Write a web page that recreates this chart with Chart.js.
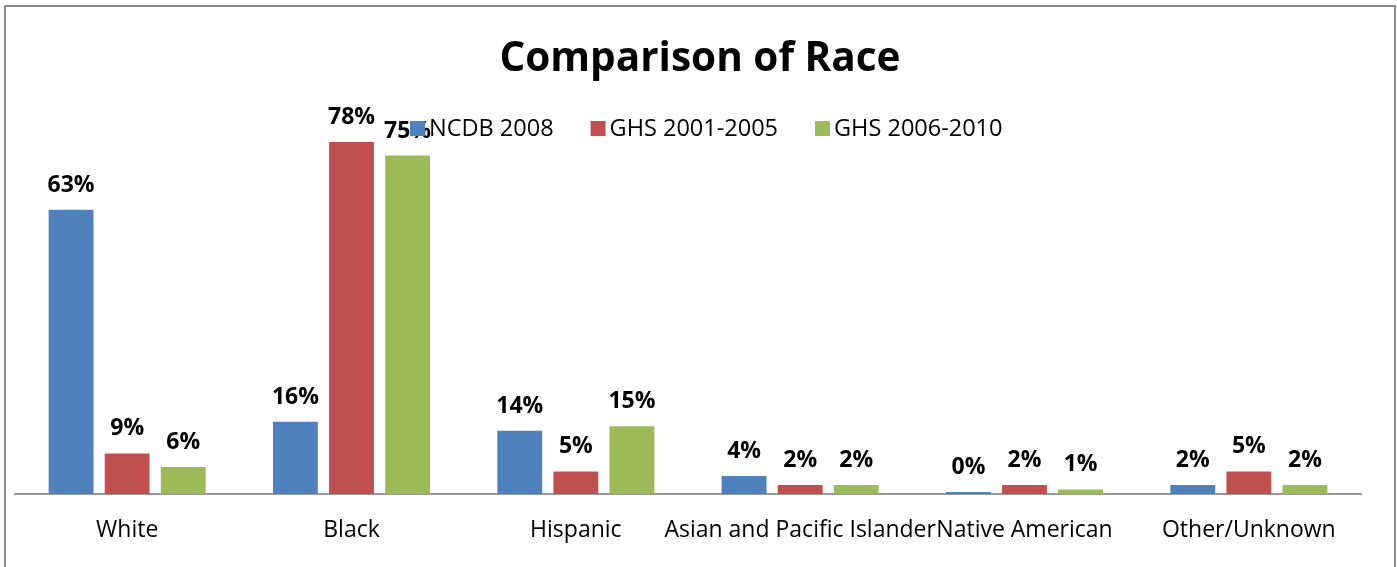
<!DOCTYPE html>
<html>
<head>
<meta charset="utf-8">
<title>Comparison of Race</title>
<script src="https://cdn.jsdelivr.net/npm/chart.js@4.4.1/dist/chart.umd.min.js"></script>
<style>
    html, body { margin: 0; padding: 0; background: #fff; overflow: hidden; }
    .chart-frame { position: absolute; left: 4px; top: 5px; width: 1388px; height: 620px; border: 2px solid #8a8a8a; }
    #raceChart { position: absolute; left: 0; top: 0; }
</style>
</head>
<body>
<div class="chart-frame"></div>
<canvas id="raceChart" width="1397" height="567"></canvas>
<script>
// Race breakdown, percent of patients in each group
var categories = ['White', 'Black', 'Hispanic', 'Asian and Pacific Islander', 'Native American', 'Other/Unknown'];
var seriesNames = ['NCDB 2008', 'GHS 2001-2005', 'GHS 2006-2010'];
var ncdb2008 = [63, 16, 14, 4, 0, 2];
var ghs2001to2005 = [9, 78, 5, 2, 2, 5];
var ghs2006to2010 = [6, 75, 15, 2, 1, 2];
var seriesColors = ['#4F81BD', '#C0504D', '#9BBB59'];
var chartTitle = 'Comparison of Race';

var fontFamily = '"Open Sans", "DejaVu Sans", sans-serif';

// Title is centred on the whole frame, not on the plot area
var frameTitle = {
    id: 'frameTitle',
    afterDraw: function(chart) {
        var c = chart.ctx;
        c.save();
        c.font = 'bold 40.5px ' + fontFamily;
        c.fillStyle = '#000';
        c.textAlign = 'center';
        c.textBaseline = 'middle';
        c.fillText(chartTitle, 700, 59);
        c.restore();
    }
};

// Percent label above each bar
var valueLabels = {
    id: 'valueLabels',
    afterDatasetsDraw: function(chart) {
        var c = chart.ctx;
        c.save();
        c.font = 'bold 23px ' + fontFamily;
        c.fillStyle = '#000';
        c.textAlign = 'center';
        c.textBaseline = 'alphabetic';
        chart.data.datasets.forEach(function(ds, i) {
            chart.getDatasetMeta(i).data.forEach(function(bar, j) {
                c.fillText(ds.data[j] + '%', bar.x, bar.y - 18);
            });
        });
        c.restore();
    }
};

// Legend sits inside the plot area, drawn last so it goes on top
var insideLegend = {
    id: 'insideLegend',
    afterDraw: function(chart) {
        var c = chart.ctx;
        c.save();
        c.font = '23.5px ' + fontFamily;
        c.textBaseline = 'middle';
        c.textAlign = 'left';
        var x = 410, y = 128.5;
        chart.data.datasets.forEach(function(ds) {
            c.fillStyle = ds.backgroundColor;
            c.fillRect(x, y - 7.5, 15, 15);
            c.fillStyle = '#000';
            c.fillText(ds.label, x + 19, y + 1);
            x += 19 + c.measureText(ds.label).width + 37;
        });
        c.restore();
    }
};

var ctx = document.getElementById('raceChart').getContext('2d');
var raceChart = new Chart(ctx, {
    type: 'bar',
    data: {
        labels: categories,
        datasets: [ncdb2008, ghs2001to2005, ghs2006to2010].map(function(values, i) {
            return {
                label: seriesNames[i],
                data: values,
                backgroundColor: seriesColors[i],
                borderWidth: 0,
                minBarLength: 2,
                categoryPercentage: 0.75,
                barPercentage: 0.8
            };
        })
    },
    options: {
        responsive: false,
        animation: false,
        layout: { padding: { left: 15, right: 36, top: 133, bottom: 0 } },
        plugins: {
            legend: { display: false },
            tooltip: { enabled: false },
            title: { display: false }
        },
        scales: {
            x: {
                grid: { display: false },
                border: { display: true, color: '#999', width: 2 },
                ticks: {
                    color: '#000',
                    font: { family: fontFamily, size: 23 },
                    padding: 15,
                    autoSkip: false,
                    maxRotation: 0,
                    minRotation: 0
                },
                afterFit: function(scale) { scale.height = 73; }
            },
            y: {
                display: false,
                min: 0,
                max: 80
            }
        }
    },
    plugins: [valueLabels, insideLegend, frameTitle]
});
</script>
</body>
</html>
